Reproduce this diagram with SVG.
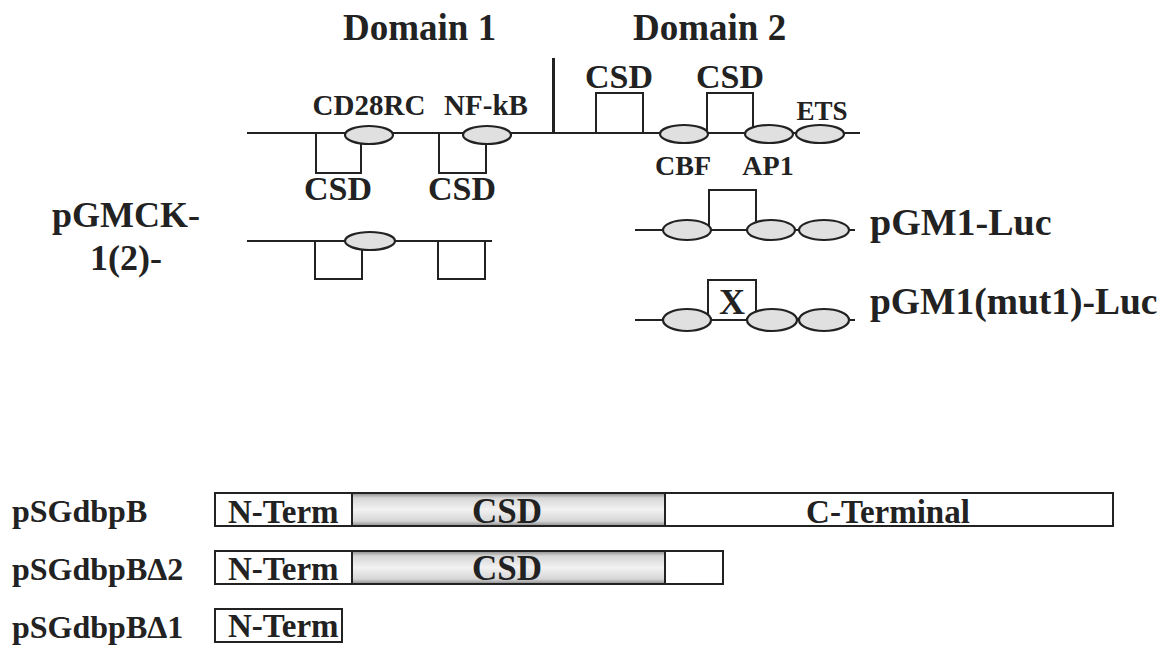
<svg xmlns="http://www.w3.org/2000/svg" width="1165" height="647" viewBox="0 0 1165 647">
<defs>
<linearGradient id="csdg" x1="0" y1="0" x2="0" y2="1">
<stop offset="0" stop-color="#8a8a8a"/>
<stop offset="0.15" stop-color="#d6d6d6"/>
<stop offset="0.5" stop-color="#f2f2f2"/>
<stop offset="0.85" stop-color="#d6d6d6"/>
<stop offset="1" stop-color="#8a8a8a"/>
</linearGradient>
</defs>
<style>
text{font-family:'Liberation Serif','DejaVu Serif',serif;font-weight:700;fill:#222}
.ln{fill:none;stroke:#222;stroke-width:2}
.el{fill:#e0e0e0;stroke:#222;stroke-width:2.2}
.bar{stroke:#222;stroke-width:2}
.mid{text-anchor:middle}
</style>
<rect width="1165" height="647" fill="#fff"/>

<g id="labels-top">
<text x="343" y="40" font-size="37">Domain 1</text>
<text x="633" y="40" font-size="37">Domain 2</text>
<text x="126" y="227" font-size="36" class="mid">pGMCK-</text>
<text x="126" y="270" font-size="36" class="mid">1(2)-</text>
</g>

<g id="connectors">
<line class="ln" x1="247" y1="133" x2="860" y2="133"/>
<rect x="552" y="58" width="3" height="75" fill="#222"/>
<path class="ln" d="M316 133 V173 H361 V144"/>
<path class="ln" d="M439 133 V173 H486 V144"/>
<path class="ln" d="M596 133 V93 H643 V133"/>
<path class="ln" d="M707 133 V93 H753 V133"/>
<line class="ln" x1="247" y1="241" x2="492" y2="241"/>
<path class="ln" d="M315 241 V279 H362 V249"/>
<path class="ln" d="M438 241 V279 H485 V241"/>
<line class="ln" x1="635" y1="230" x2="855" y2="230"/>
<path class="ln" d="M709 230 V190 H756 V230"/>
<line class="ln" x1="635" y1="320" x2="855" y2="320"/>
<path class="ln" d="M708 320 V280 H756 V320"/>
</g>

<g id="domain1">
<ellipse class="el" cx="369" cy="135" rx="24" ry="9"/>
<ellipse class="el" cx="487" cy="135" rx="24" ry="9"/>
<text x="369" y="115" font-size="29" class="mid">CD28RC</text>
<text x="486" y="115" font-size="29" class="mid">NF-kB</text>
<text x="338" y="200" font-size="34" class="mid">CSD</text>
<text x="462" y="200" font-size="34" class="mid">CSD</text>
</g>

<g id="domain2">
<ellipse class="el" cx="684" cy="134" rx="24" ry="9"/>
<ellipse class="el" cx="769" cy="134" rx="24" ry="9"/>
<ellipse class="el" cx="820" cy="134" rx="24" ry="9"/>
<text x="619" y="88" font-size="34" class="mid">CSD</text>
<text x="730" y="88" font-size="34" class="mid">CSD</text>
<text x="822" y="120" font-size="27" class="mid">ETS</text>
<text x="683" y="175" font-size="28" class="mid">CBF</text>
<text x="768" y="175" font-size="28" class="mid">AP1</text>
</g>

<g id="pgmck">
<ellipse class="el" cx="370" cy="241" rx="25" ry="9"/>
</g>

<g id="pgm1-luc">
<ellipse class="el" cx="687" cy="230" rx="24" ry="10"/>
<ellipse class="el" cx="771" cy="230" rx="24" ry="10"/>
<ellipse class="el" cx="824" cy="230" rx="25" ry="10"/>
<text x="870" y="235" font-size="38">pGM1-Luc</text>
</g>

<g id="pgm1-mut1-luc">
<ellipse class="el" cx="687" cy="320" rx="24" ry="11"/>
<ellipse class="el" cx="772" cy="320" rx="25" ry="11"/>
<ellipse class="el" cx="824" cy="320" rx="25" ry="11"/>
<text x="732" y="314" font-size="36" class="mid">X</text>
<text x="870" y="314" font-size="37.5">pGM1(mut1)-Luc</text>
</g>

<g id="pSGdbpB">
<text x="12" y="522" font-size="32">pSGdbpB</text>
<rect class="bar" x="215" y="493" width="137" height="33" fill="#fff"/>
<rect class="bar" x="352" y="493" width="313" height="33" fill="url(#csdg)"/>
<rect class="bar" x="665" y="493" width="448" height="33" fill="#fff"/>
<text x="228" y="523" font-size="33">N-Term</text>
<text x="507" y="523" font-size="35" class="mid">CSD</text>
<text x="888" y="523" font-size="33" class="mid">C-Terminal</text>
</g>

<g id="pSGdbpBd2">
<text x="12" y="580" font-size="32">pSGdbpBΔ2</text>
<rect class="bar" x="215" y="551" width="137" height="33" fill="#fff"/>
<rect class="bar" x="352" y="551" width="313" height="33" fill="url(#csdg)"/>
<rect class="bar" x="665" y="551" width="58" height="33" fill="#fff"/>
<text x="228" y="580" font-size="33">N-Term</text>
<text x="507" y="580" font-size="35" class="mid">CSD</text>
</g>

<g id="pSGdbpBd1">
<text x="12" y="638" font-size="32">pSGdbpBΔ1</text>
<rect class="bar" x="215" y="609" width="127" height="33" fill="#fff"/>
<text x="228" y="637" font-size="33">N-Term</text>
</g>
</svg>
